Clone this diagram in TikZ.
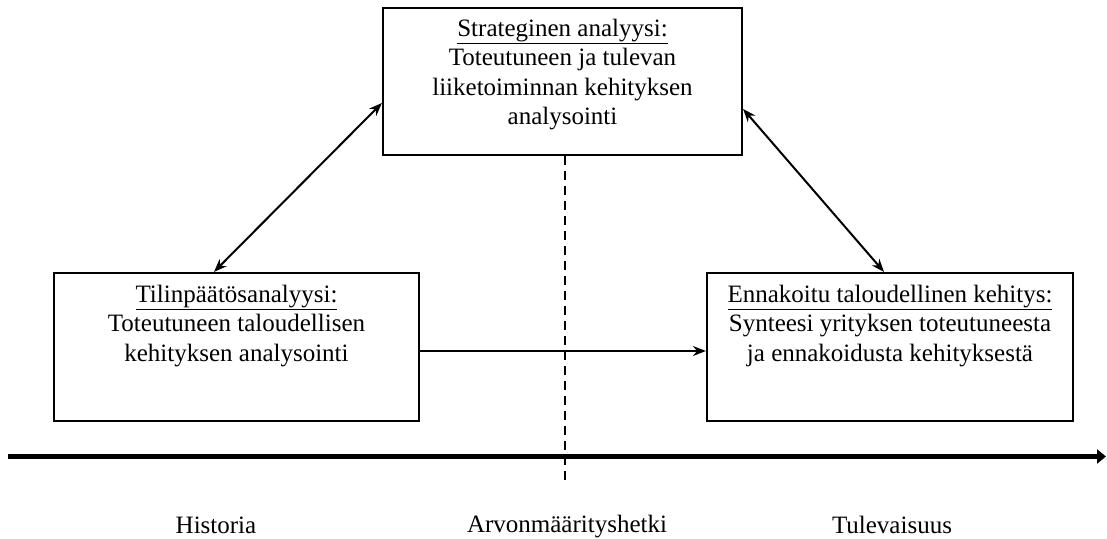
\documentclass[tikz,border=0pt]{standalone}
\usepackage{fontspec}
\setmainfont{Liberation Serif}
\usetikzlibrary{arrows.meta}
\begin{document}
\begin{tikzpicture}[x=1pt,y=-1pt,
  box/.style={draw,line width=2.2pt,minimum width=#1,minimum height=148pt,inner sep=0pt},
  boxtext/.style={anchor=north,align=center,inner sep=0pt,font=\fontsize{25}{29.5}\selectfont},
  lbl/.style={anchor=base,inner sep=0pt,font=\fontsize{25}{29.5}\selectfont},
  conn/.style={line width=2pt,{Stealth[length=13pt,width=10pt]}-{Stealth[length=13pt,width=10pt]}},
  conn1/.style={line width=2pt,-{Stealth[length=13pt,width=10pt]}},
  timeline/.style={line width=5pt,-{Triangle[length=9pt,width=14pt]}},
  divider/.style={line width=2pt,dash pattern=on 9pt off 6pt}
]
\useasboundingbox (0,0) rectangle (1107,538);
\fill[white] (0,0) rectangle (1107,538);

\node[box=359pt,minimum height=147pt] (T) at (562.5,81.5) {};
\node[box=365pt] (L) at (236.5,347) {};
\node[box=366pt] (R) at (890,347) {};

\node[boxtext] (Tt) at ([yshift=-12pt]T.north)
  {\underline{Strateginen analyysi:}\\Toteutuneen ja tulevan\\liiketoiminnan kehityksen\\analysointi};
\node[boxtext] (Lt) at ([yshift=-13pt]L.north)
  {\underline{Tilinpäätösanalyysi:}\\Toteutuneen taloudellisen\\kehityksen analysointi};
\node[boxtext] (Rt) at ([yshift=-13pt]R.north)
  {\underline{Ennakoitu taloudellinen kehitys:}\\Synteesi yrityksen toteutuneesta\\ja ennakoidusta kehityksestä};

\draw[conn] ([xshift=-22.5pt]L.north) -- ([yshift=-21.5pt]T.west);
\draw[conn] ([yshift=-27.5pt]T.east) -- ([xshift=-6pt]R.north);
\draw[conn1] ([yshift=-4pt]L.east) -- ([yshift=-4pt]R.west);

\coordinate (tl0) at (8,456.5);
\coordinate (tl1) at (1106,456.5);
\draw[timeline] (tl0) -- (tl1);

\coordinate (dend) at (565,485);
\draw[divider] ([xshift=2.5pt]T.south) -- (dend);

\node[lbl] (h) at (216,533) {Historia};
\node[lbl] (a) at (567,532) {Arvonmäärityshetki};
\node[lbl] (f) at (892,533) {Tulevaisuus};
\end{tikzpicture}
\end{document}
